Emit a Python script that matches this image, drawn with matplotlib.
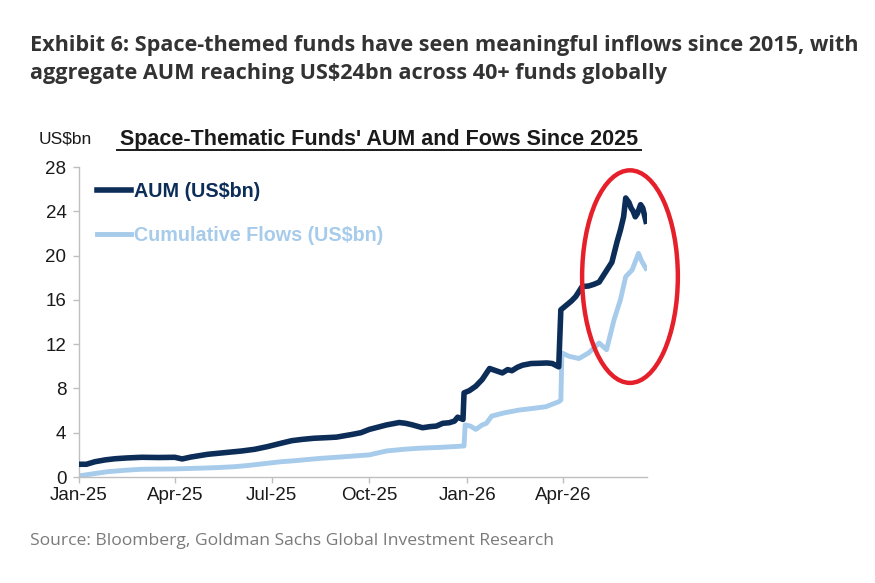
import matplotlib
matplotlib.use("Agg")
import matplotlib.pyplot as plt
import matplotlib.dates as mdates
from matplotlib.patches import Ellipse
import numpy as np
import pandas as pd

# ---------------- data ----------------
start = pd.Timestamp("2025-01-01")

aum_days = [0, 7, 15, 25, 34, 45, 59, 75, 90, 97, 105, 121, 137, 153, 165, 177,
            190, 200, 210, 221, 232, 242, 257, 265, 273, 281, 289, 301, 307, 313,
            323, 330, 336, 342, 348, 353, 356, 361, 362, 367, 373, 379, 386, 392,
            398, 403, 407, 412, 417, 425, 432, 440, 445, 451, 453, 458, 463, 467,
            473, 479, 484, 489, 495, 501, 506, 509, 512, 514, 517, 519, 521, 523,
            525, 528, 530, 533]
aum_vals = [1.15, 1.15, 1.38, 1.55, 1.65, 1.72, 1.78, 1.76, 1.78, 1.63, 1.80, 2.05,
            2.20, 2.35, 2.50, 2.74, 3.05, 3.28, 3.40, 3.50, 3.55, 3.60, 3.85, 4.00,
            4.30, 4.50, 4.70, 4.92, 4.85, 4.72, 4.45, 4.55, 4.60, 4.85, 4.90, 5.05,
            5.40, 5.20, 7.60, 7.80, 8.20, 8.80, 9.80, 9.60, 9.40, 9.70, 9.60, 9.90,
            10.10, 10.25, 10.27, 10.30, 10.25, 9.95, 15.10, 15.50, 15.90, 16.30,
            17.20, 17.25, 17.40, 17.60, 18.50, 19.40, 21.30, 22.30, 23.50, 25.20,
            24.80, 24.30, 24.00, 23.50, 23.80, 24.60, 24.30, 23.10]

flow_days = [0, 14, 27, 45, 59, 90, 115, 130, 146, 160, 177, 190, 200, 215, 228,
             245, 273, 289, 305, 320, 340, 362, 363, 368, 373, 379, 383, 388, 400,
             414, 427, 439, 451, 453, 454, 461, 470, 479, 489, 496, 503, 509, 514,
             520, 526, 529, 533]
flow_vals = [0.10, 0.30, 0.48, 0.62, 0.70, 0.73, 0.80, 0.85, 0.93, 1.05, 1.24, 1.38,
             1.45, 1.58, 1.69, 1.80, 2.00, 2.35, 2.50, 2.60, 2.68, 2.80, 4.70, 4.60,
             4.30, 4.70, 4.85, 5.50, 5.80, 6.05, 6.20, 6.35, 6.80, 6.95, 11.20, 10.90,
             10.70, 11.20, 12.10, 11.50, 14.20, 16.00, 18.10, 18.70, 20.20, 19.50,
             18.85]

aum_dates = [start + pd.Timedelta(days=d) for d in aum_days]
flow_dates = [start + pd.Timedelta(days=d) for d in flow_days]

series_labels = ["AUM (US$bn)", "Cumulative Flows (US$bn)"]
yticks = [0, 4, 8, 12, 16, 20, 24, 28]
xtick_dates = pd.to_datetime(["2025-01-01", "2025-04-01", "2025-07-01",
                              "2025-10-01", "2026-01-01", "2026-04-01"])

# ---------------- styling ----------------
navy = "#0C2D57"
light = "#A7CBEA"
W, H = 875, 583
fig = plt.figure(figsize=(W / 100, H / 100), dpi=100)
fig.patch.set_facecolor("white")

def px(x, y):
    return x / W, 1 - y / H

arial = ["Liberation Sans", "DejaVu Sans"]

ax = fig.add_axes([79 / W, 1 - 477 / H, (647 - 79) / W, (477 - 167) / H])
ax.plot(flow_dates, flow_vals, color=light, lw=3.5, solid_joinstyle="round",
        label=series_labels[1], zorder=2)
ax.plot(aum_dates, aum_vals, color=navy, lw=4.0, solid_joinstyle="round",
        label=series_labels[0], zorder=3)

ax.set_xlim(start, start + pd.Timedelta(days=534))
ax.set_ylim(0, 28)
ax.set_yticks(yticks)
ax.set_xticks(xtick_dates)
ax.xaxis.set_major_formatter(mdates.DateFormatter("%b-%y"))

for s in ["top", "right"]:
    ax.spines[s].set_visible(False)
for s in ["left", "bottom"]:
    ax.spines[s].set_color("#BFBFBF")
    ax.spines[s].set_linewidth(1.0)
ax.tick_params(axis="both", direction="out", length=4, width=1, color="#BFBFBF",
               labelsize=13.5, labelcolor="#1a1a1a")
ax.tick_params(axis="y", pad=5)
ax.tick_params(axis="x", pad=3)
for lab in ax.get_xticklabels() + ax.get_yticklabels():
    lab.set_family(arial)

# legend
handles, labels = ax.get_legend_handles_labels()
order = [1, 0]
leg = ax.legend([handles[i] for i in order], [labels[i] for i in order],
                loc="upper left", bbox_to_anchor=(0.0, 1.008), frameon=False,
                handlelength=1.75, handletextpad=0.15, labelspacing=1.25,
                prop={"family": arial, "weight": "bold", "size": 14.2})
for txt, col in zip(leg.get_texts(), [navy, light]):
    txt.set_color(col)

# red highlight ellipse (annotation)
cx = mdates.date2num(start + pd.Timedelta(days=518))
ell = Ellipse((cx, 18.1), width=90, height=19.2, fill=False, edgecolor="#E5202A",
              lw=3.2, clip_on=False, zorder=5)
ax.add_patch(ell)

# texts
title_font = ["Liberation Sans Narrow", "Open Sans", "DejaVu Sans"]
fig.text(*px(30, 46), "Exhibit 6: Space-themed funds have seen meaningful inflows since 2015, with",
         fontsize=15.6, fontweight="bold", color="#333333", family=title_font, va="center")
fig.text(*px(30, 74), "aggregate AUM reaching US$24bn across 40+ funds globally",
         fontsize=15.6, fontweight="bold", color="#333333", family=title_font, va="center")

fig.text(*px(39, 139), "US$bn", fontsize=12.5, color="#1a1a1a", family=arial, va="center")
fig.text(*px(379, 139), "Space-Thematic Funds' AUM and Fows Since 2025", fontsize=15.5,
         fontweight="bold", color="#1a1a1a", family=arial, va="center", ha="center")
fig.lines.append(plt.Line2D([117 / W, 641 / W], [1 - 150 / H, 1 - 150 / H],
                            transform=fig.transFigure, color="#1a1a1a", lw=1.4))

fig.text(*px(30, 541), "Source: Bloomberg, Goldman Sachs Global Investment Research",
         fontsize=12.6, color="#7a7a7a", family=title_font, va="center")

fig.savefig("out.png", dpi=100, facecolor="white")
